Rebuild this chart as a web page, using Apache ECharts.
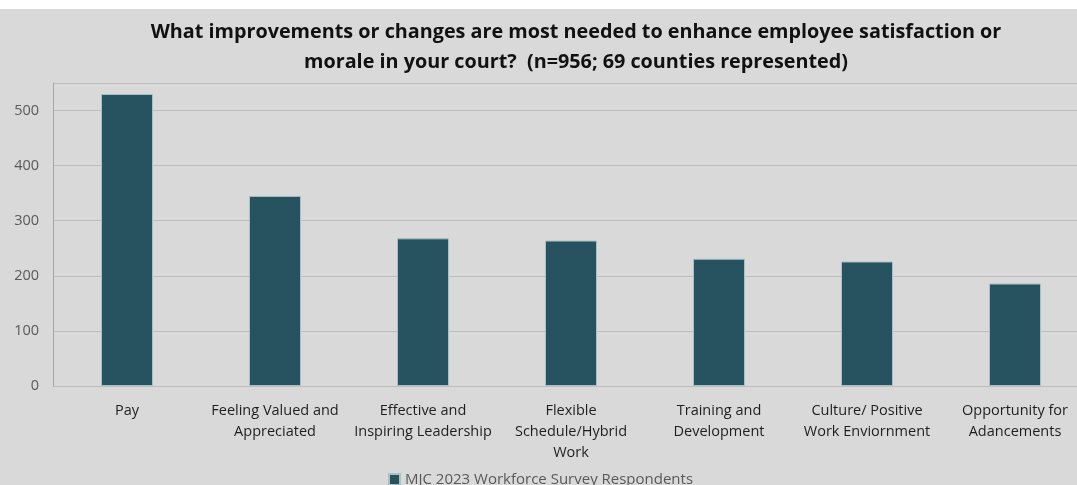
<!DOCTYPE html>
<html><head><meta charset="utf-8">
<script src="https://cdn.jsdelivr.net/npm/echarts@6/dist/echarts.min.js"></script>
<style>
html,body{margin:0;padding:0;background:#fff;overflow:hidden;width:1077px;height:485px;}
#c{position:absolute;left:0;top:9px;width:1100px;height:476px;background:#d9d9d9;}
</style></head><body>
<div id="c"></div>
<script>
const titleText = "What improvements or changes are most needed to enhance employee satisfaction or\nmorale in your court?  (n=956; 69 counties represented)";
const categories = ["Pay", "Feeling Valued and\nAppreciated", "Effective and\nInspiring Leadership", "Flexible\nSchedule/Hybrid\nWork", "Training and\nDevelopment", "Culture/ Positive\nWork Enviornment", "Opportunity for\nAdancements"];
const seriesName = "MJC 2023 Workforce Survey Respondents";
const values = [530, 345, 268, 264, 231, 226, 186];

const chart = echarts.init(document.getElementById('c'));
chart.setOption({
  backgroundColor: '#d9d9d9',
  animation: false,
  title: {
    text: titleText, left: 571, textAlign: 'center', top: 3,
    textStyle: {fontFamily: 'Open Sans', fontWeight: 'bold', fontSize: 19.8, color: '#111', lineHeight: 30}
  },
  legend: {
    bottom: -7, left: 383, itemWidth: 11, itemHeight: 11, icon: 'rect',
    textStyle: {fontFamily: 'Open Sans', fontSize: 15, color: '#595959'},
    data: [seriesName]
  },
  grid: {left: 53, width: 1036, top: 74, bottom: 99, containLabel: false},
  xAxis: {
    type: 'category', data: categories,
    axisLine: {show: false}, axisTick: {show: false},
    axisLabel: {interval: 0, fontFamily: 'Open Sans', fontSize: 14.5, color: '#1f1f1f', lineHeight: 21, margin: 14}
  },
  yAxis: {
    type: 'value', min: 0, max: 550, interval: 100,
    axisLine: {show: true, lineStyle: {color: '#a6a6a6'}},
    axisTick: {show: false},
    splitLine: {lineStyle: {color: '#bdbdbd', width: 1}},
    axisLabel: {fontFamily: 'Open Sans', fontSize: 14.5, color: '#595959', margin: 14,
      formatter: v => (v % 100 === 0 ? String(v) : '')}
  },
  series: [{
    name: seriesName, type: 'bar', data: values, barWidth: 52,
    itemStyle: {color: '#26535f', borderColor: '#a9bfc4', borderWidth: 1}
  }]
});
</script></body></html>
